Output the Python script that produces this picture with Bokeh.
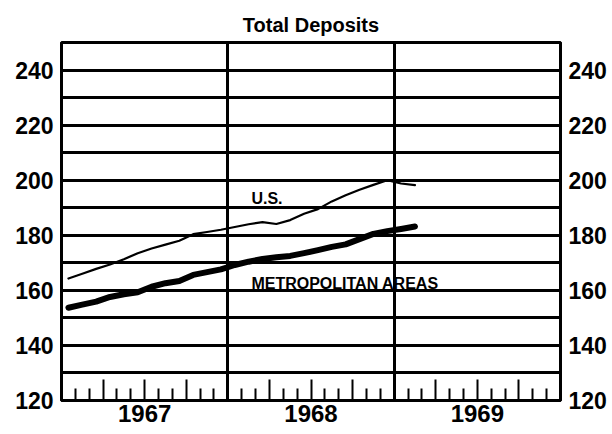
from bokeh.plotting import figure
from bokeh.models import FixedTicker, LinearAxis, ColumnDataSource
from bokeh.core.properties import value
from bokeh.embed import file_html
from bokeh.resources import INLINE

# months since Jan 1967 (mid-month points)
months = [0.5, 1.5, 2.5, 3.5, 4.5, 5.5, 6.5, 7.5, 8.5, 9.5, 10.5, 11.5,
          12.5, 13.5, 14.5, 15.5, 16.5, 17.5, 18.5, 19.5, 20.5, 21.5, 22.5, 23.5,
          24.5, 25.5]
us = [164.3, 166.0, 167.8, 169.4, 171.3, 173.5, 175.2, 176.6, 178.0, 180.4, 181.2, 182.0,
      183.0, 184.0, 184.8, 184.1, 185.5, 187.8, 189.5, 192.3, 194.5, 196.5, 198.3, 200.0,
      198.8, 198.2]
metro = [153.7, 154.8, 155.9, 157.6, 158.6, 159.3, 161.3, 162.6, 163.4, 165.6, 166.6, 167.6,
         169.2, 170.4, 171.4, 172.0, 172.5, 173.5, 174.6, 175.8, 176.7, 178.6, 180.5, 181.5,
         182.3, 183.2]
years = ["1967", "1968", "1969"]
y_ticks = [120, 140, 160, 180, 200, 220, 240]
series_labels = ["U.S.", "METROPOLITAN AREAS"]
label_x = [13.7, 13.7]
label_y = [193.3, 162.4]

FONT = "'Liberation Sans', Arial, sans-serif"

p = figure(width=612, height=434, x_range=(0, 36), y_range=(120, 250),
           output_backend="svg", toolbar_location=None,
           min_border_left=61, min_border_right=52, min_border_top=42, min_border_bottom=34)
p.title.text = "Total Deposits"
p.title.align = "center"
p.title.text_font = FONT
p.title.text_font_size = "20px"
p.title.text_font_style = "bold"
p.title.text_color = "black"
p.title.standoff = 14

p.outline_line_color = "black"
p.outline_line_width = 3
p.outline_line_alpha = 1

# grids
p.ygrid.ticker = FixedTicker(ticks=list(range(130, 250, 10)))
p.xgrid.ticker = FixedTicker(ticks=[12 * i for i in range(1, len(years))])
for g in (p.xgrid, p.ygrid):
    g.grid_line_color = "black"
    g.grid_line_width = 3
    g.grid_line_alpha = 1

# x axis: monthly ticks inside, quarter ticks taller, year labels at mid-year
n_m = 12 * len(years)
quarters = [m for m in range(1, n_m) if m % 3 == 0 and m % 12 != 0]
minors = [m for m in range(1, n_m) if m % 3 != 0]
xa = p.xaxis[0]
xa.ticker = FixedTicker(ticks=quarters, minor_ticks=minors)
overrides = {q: "" for q in quarters}
for i, yr in enumerate(years):
    overrides[12 * i + 6] = yr
xa.major_label_overrides = overrides
xa.major_tick_in = 21
xa.major_tick_out = 0
xa.minor_tick_in = 12
xa.minor_tick_out = 0
xa.major_tick_line_width = 2
xa.minor_tick_line_width = 2
xa.axis_line_width = 3
xa.major_label_text_font = FONT
xa.major_label_text_font_style = "bold"
xa.major_label_text_font_size = "24px"
xa.major_label_text_color = "black"
xa.major_label_standoff = 4

# y axes
ra = LinearAxis()
p.add_layout(ra, "right")
for ax in (p.yaxis[0], ra):
    ax.ticker = FixedTicker(ticks=y_ticks)
    ax.major_tick_in = 0
    ax.major_tick_out = 0
    ax.minor_tick_in = 0
    ax.minor_tick_out = 0
    ax.axis_line_width = 3
    ax.major_label_text_font = FONT
    ax.major_label_text_font_style = "bold"
    ax.major_label_text_font_size = "23px"
    ax.major_label_text_color = "black"
    ax.major_label_standoff = 8

src = ColumnDataSource(dict(m=months, us=us, metro=metro))
p.line("m", "us", source=src, line_color="black", line_width=2.2, line_cap="round", line_join="round")
p.line("m", "metro", source=src, line_color="black", line_width=6, line_cap="round", line_join="round")

lsrc = ColumnDataSource(dict(x=label_x, y=label_y, t=series_labels))
p.text("x", "y", text="t", source=lsrc, text_font=value(FONT), text_font_style="bold",
       text_font_size=value("16px"), text_baseline="alphabetic", text_align="left", text_color="black")

open("out.html", "w").write(file_html(p, INLINE))
